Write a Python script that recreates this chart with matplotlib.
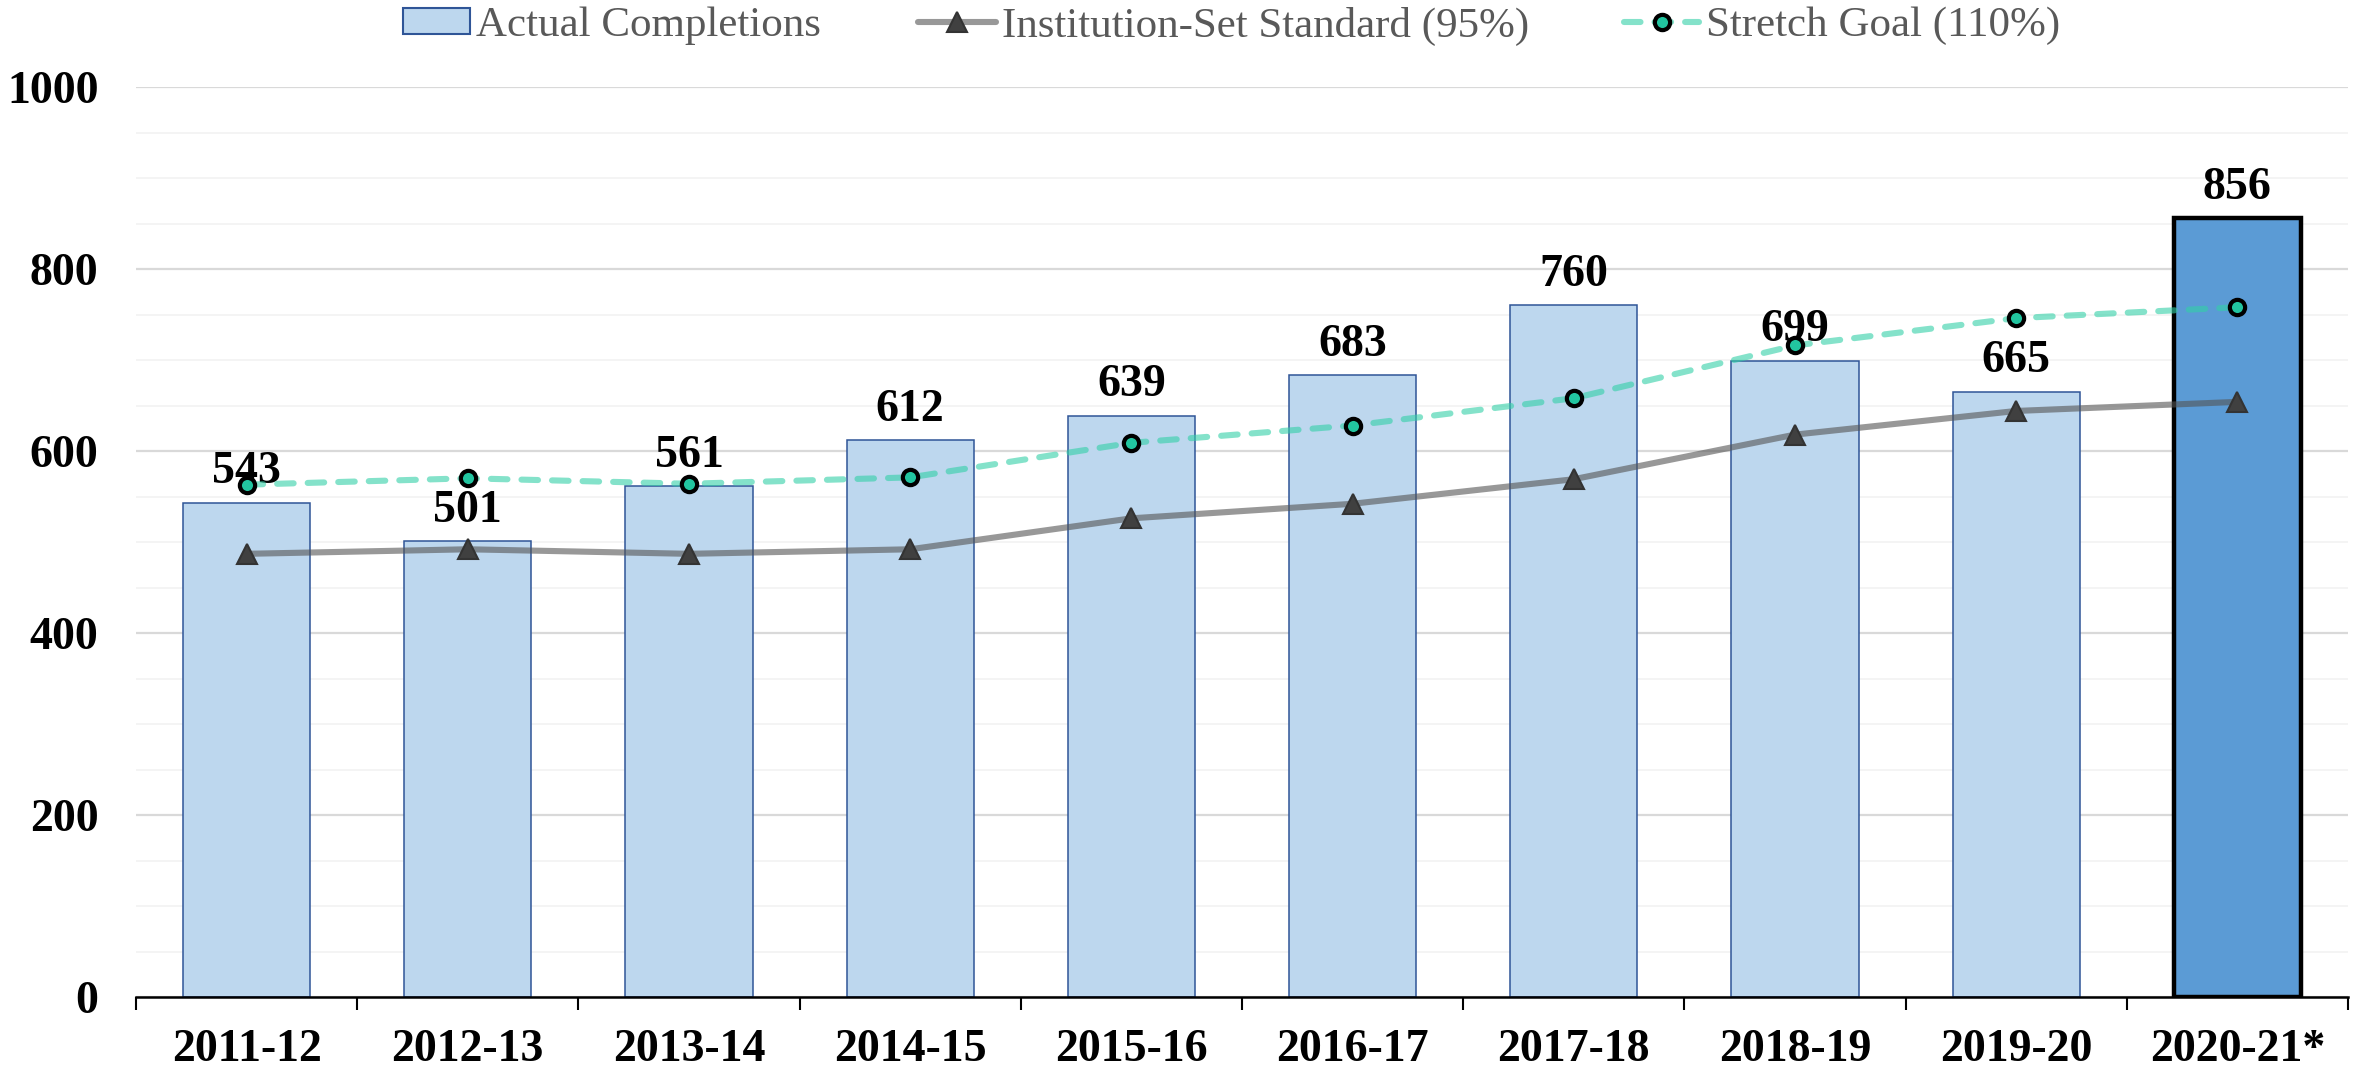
import matplotlib
matplotlib.use("Agg")
import matplotlib.pyplot as plt
from matplotlib.lines import Line2D
from matplotlib.patches import Patch
from matplotlib.ticker import MultipleLocator, FixedLocator
import numpy as np

# ---- data ----
years = ["2011-12", "2012-13", "2013-14", "2014-15", "2015-16",
         "2016-17", "2017-18", "2018-19", "2019-20", "2020-21*"]
completions = [543, 501, 561, 612, 639, 683, 760, 699, 665, 856]
standard_95 = [487, 492, 487, 492, 526, 542, 569, 618, 644, 654]
stretch_110 = [563, 570, 564, 571, 609, 628, 658, 716, 746, 758]
legend_labels = ["Actual Completions", "Institution-Set Standard (95%)", "Stretch Goal (110%)"]

plt.rcParams['font.family'] = ['Liberation Serif', 'DejaVu Serif']

W, H = 2369, 1068
fig = plt.figure(figsize=(W / 100, H / 100), dpi=100)
ax = fig.add_axes([136 / W, 1 - 997 / H, (2348 - 136) / W, (997 - 87) / H])

x = np.arange(len(years))
light_fill, light_edge = '#BDD7EE', '#2F5597'
dark_fill = '#5B9BD5'
fills = [light_fill] * (len(years) - 1) + [dark_fill]
edges = [light_edge] * (len(years) - 1) + ['black']
lws = [1.1] * (len(years) - 1) + [3.2]
ax.bar(x, completions, width=0.575, color=fills, edgecolor=edges, linewidth=lws, zorder=2)

std_color = (0.33, 0.33, 0.33, 0.6)
str_color = (50 / 255, 208 / 255, 167 / 255, 0.6)
std_kw = dict(color=std_color, lw=4.4, marker='^', ms=14, mfc='#404040', mec='#333333', mew=1.5,
              solid_capstyle='round')
str_kw = dict(color=str_color, lw=4.4, ls=(0, (2.7, 2.3)), dash_capstyle='round', marker='o', ms=11,
              mfc='#22C5A0', mec='black', mew=3.0)
ax.plot(x, standard_95, zorder=4, **std_kw)
ax.plot(x, stretch_110, zorder=5, **str_kw)

FS = 33
for i, v in enumerate(completions):
    ax.annotate(str(v), (i, v), xytext=(0, 14), textcoords='offset points',
                ha='center', va='baseline', fontsize=FS, fontweight='bold', zorder=3)

ax.set_xlim(-0.5, len(years) - 0.5)
ax.set_ylim(0, 1000)
ax.yaxis.set_major_locator(MultipleLocator(200))
ax.yaxis.set_minor_locator(MultipleLocator(50))
ax.grid(True, which='major', axis='y', color='#D9D9D9', lw=1.6, zorder=0)
ax.grid(True, which='minor', axis='y', color='#F2F2F2', lw=1.2, zorder=0)
ax.set_axisbelow(True)

ax.set_xticks(x)
ax.set_xticklabels(years)
ax.xaxis.set_minor_locator(FixedLocator(np.arange(-0.5, len(years), 1.0)))
ax.tick_params(axis='x', which='major', length=0, pad=23, labelsize=FS)
ax.tick_params(axis='x', which='minor', length=9.5, width=1.5, color='black', direction='out')
ax.tick_params(axis='y', which='both', length=0, pad=27, labelsize=FS)
for lab in ax.get_xticklabels() + ax.get_yticklabels():
    lab.set_fontweight('bold')

for s in ['top', 'right', 'left']:
    ax.spines[s].set_visible(False)
ax.spines['bottom'].set_color('black')
ax.spines['bottom'].set_linewidth(1.8)
ax.spines['bottom'].set_zorder(6)

# ---- legend (three entries placed like the original) ----
h1 = Patch(facecolor=light_fill, edgecolor=light_edge, linewidth=1.5)
h2 = Line2D([], [], **std_kw)
h3 = Line2D([], [], **str_kw)
ly = 1 - 26 / H
for h, lab, lx, hl in [(h1, legend_labels[0], 403, 1.55),
                       (h2, legend_labels[1], 918, 1.8),
                       (h3, legend_labels[2], 1624, 1.75)]:
    fig.legend([h], [lab], loc='center left', bbox_to_anchor=(lx / W, ly),
               frameon=False, fontsize=31, handlelength=hl, handleheight=0.55,
               handletextpad=0.15, borderpad=0, borderaxespad=0,
               labelcolor='#595959')

fig.savefig('out.png', dpi=100)
